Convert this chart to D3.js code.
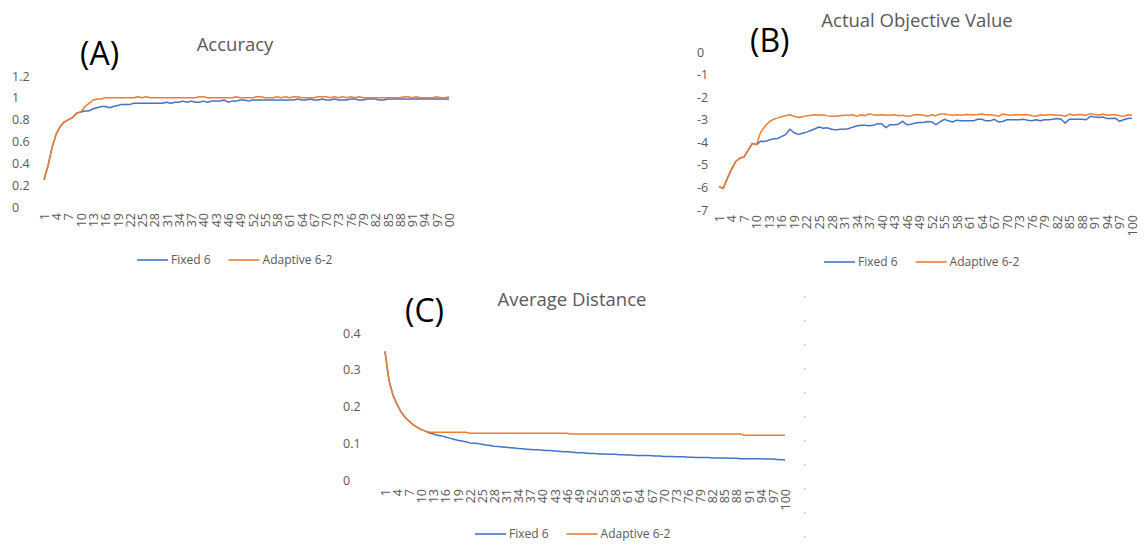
<!DOCTYPE html>
<html><head><meta charset="utf-8">
<script src="https://cdn.jsdelivr.net/npm/d3@7/dist/d3.min.js"></script>
<style>
html,body{margin:0;padding:0;background:#fff;}
svg{display:block;font-family:"Open Sans",sans-serif;}
</style></head>
<body><svg id="c" width="1144" height="544"></svg>
<script>
const iterations = d3.range(1, 101);
const seriesNames = ["Fixed 6", "Adaptive 6-2"];

const accuracyFixed = [
0.25,0.38,0.55,0.67,0.74,0.78,0.80,0.82,0.86,0.87,
0.88,0.88,0.90,0.91,0.92,0.92,0.91,0.92,0.93,0.94,
0.94,0.94,0.95,0.95,0.95,0.95,0.95,0.95,0.95,0.95,
0.96,0.95,0.96,0.96,0.97,0.96,0.97,0.96,0.96,0.97,
0.96,0.97,0.97,0.97,0.98,0.96,0.97,0.97,0.98,0.98,
0.97,0.98,0.98,0.98,0.98,0.98,0.98,0.98,0.98,0.98,
0.98,0.98,0.99,0.98,0.98,0.99,0.98,0.98,0.99,0.98,
0.98,0.99,0.98,0.98,0.98,0.99,0.99,0.98,0.98,0.99,
0.99,0.99,0.98,0.98,0.99,0.99,0.99,0.99,0.99,0.99,
0.99,0.99,0.99,0.99,0.99,0.99,0.99,0.99,0.99,0.99];
const accuracyAdaptive = [
0.25,0.38,0.55,0.67,0.74,0.78,0.80,0.82,0.86,0.87,
0.92,0.95,0.98,0.99,0.99,1.00,1.00,1.00,1.00,1.00,
1.00,1.00,1.00,1.01,1.00,1.01,1.00,1.00,1.00,1.00,
1.00,1.00,1.00,1.00,1.00,1.00,1.00,1.00,1.01,1.01,
1.00,1.00,1.00,1.00,1.00,1.00,1.00,1.01,1.00,1.00,
1.00,1.00,1.01,1.01,1.00,1.00,1.00,1.01,1.00,1.01,
1.00,1.01,1.01,1.00,1.00,1.00,1.00,1.01,1.01,1.01,
1.00,1.01,1.00,1.01,1.00,1.01,1.00,1.01,1.00,1.00,
1.00,1.00,1.00,1.00,1.00,1.00,1.00,1.00,1.01,1.01,
1.00,1.01,1.00,1.00,1.00,1.00,1.01,1.00,1.00,1.01];

const objectiveFixed = [
-5.95,-6.05,-5.6,-5.2,-4.85,-4.7,-4.65,-4.35,-4.05,-4.1,
-3.95,-3.97,-3.9,-3.85,-3.83,-3.75,-3.65,-3.42,-3.58,-3.65,
-3.6,-3.55,-3.48,-3.4,-3.32,-3.38,-3.36,-3.42,-3.45,-3.42,
-3.42,-3.4,-3.33,-3.28,-3.25,-3.25,-3.27,-3.25,-3.18,-3.18,
-3.35,-3.22,-3.22,-3.2,-3.07,-3.22,-3.2,-3.15,-3.12,-3.12,
-3.08,-3.1,-3.22,-3.1,-2.98,-3.05,-3.1,-3.02,-3.05,-3.05,
-3.05,-3.05,-2.98,-2.98,-3.05,-3.05,-2.98,-3.1,-3.08,-3.0,
-3.0,-3.0,-3.0,-2.98,-3.02,-3.05,-3.0,-3.05,-3.0,-3.0,
-2.98,-2.95,-2.98,-3.15,-2.98,-2.98,-2.98,-2.98,-3.0,-2.85,
-2.88,-2.9,-2.88,-2.95,-2.95,-2.93,-3.07,-3.0,-2.95,-2.93];
const objectiveAdaptive = [
-5.95,-6.05,-5.6,-5.2,-4.85,-4.7,-4.65,-4.35,-4.05,-4.1,
-3.55,-3.3,-3.1,-2.98,-2.93,-2.87,-2.82,-2.78,-2.85,-2.9,
-2.87,-2.83,-2.8,-2.78,-2.8,-2.78,-2.83,-2.85,-2.85,-2.82,
-2.8,-2.8,-2.78,-2.85,-2.78,-2.82,-2.75,-2.78,-2.8,-2.78,
-2.8,-2.8,-2.78,-2.82,-2.8,-2.85,-2.82,-2.78,-2.78,-2.8,
-2.85,-2.78,-2.82,-2.75,-2.75,-2.78,-2.8,-2.78,-2.8,-2.77,
-2.78,-2.78,-2.77,-2.75,-2.78,-2.78,-2.8,-2.85,-2.75,-2.78,
-2.8,-2.78,-2.78,-2.78,-2.78,-2.82,-2.85,-2.78,-2.8,-2.78,
-2.78,-2.8,-2.8,-2.85,-2.75,-2.8,-2.77,-2.78,-2.8,-2.73,
-2.77,-2.8,-2.75,-2.8,-2.78,-2.78,-2.82,-2.85,-2.78,-2.8];

const distanceFixed = [
0.35,0.27,0.23,0.205,0.185,0.17,0.16,0.15,0.143,0.137,
0.133,0.128,0.125,0.122,0.12,0.117,0.114,0.111,0.108,0.106,
0.104,0.101,0.1,0.099,0.097,0.095,0.094,0.092,0.091,0.09,
0.089,0.088,0.087,0.086,0.085,0.084,0.083,0.082,0.082,0.081,
0.080,0.080,0.079,0.078,0.077,0.077,0.076,0.075,0.074,0.074,
0.073,0.072,0.072,0.071,0.071,0.070,0.070,0.070,0.069,0.069,
0.068,0.068,0.067,0.067,0.067,0.067,0.066,0.065,0.065,0.064,
0.064,0.064,0.063,0.063,0.063,0.062,0.062,0.061,0.061,0.061,
0.061,0.060,0.060,0.060,0.060,0.059,0.059,0.059,0.058,0.058,
0.058,0.058,0.058,0.058,0.057,0.057,0.057,0.056,0.055,0.055];
const distanceAdaptive = [
0.35,0.27,0.23,0.205,0.185,0.17,0.16,0.15,0.143,0.137,
0.133,0.13,0.13,0.13,0.13,0.13,0.13,0.13,0.13,0.13,
0.13,0.127,0.127,0.127,0.127,0.127,0.127,0.127,0.127,0.127,
0.127,0.127,0.127,0.127,0.127,0.127,0.127,0.127,0.127,0.127,
0.127,0.127,0.127,0.127,0.127,0.127,0.125,0.125,0.125,0.125,
0.125,0.125,0.125,0.125,0.125,0.125,0.125,0.125,0.125,0.125,
0.125,0.125,0.125,0.125,0.125,0.125,0.125,0.125,0.125,0.125,
0.125,0.125,0.125,0.125,0.125,0.125,0.125,0.125,0.125,0.125,
0.125,0.125,0.125,0.125,0.125,0.125,0.125,0.125,0.125,0.122,
0.122,0.122,0.122,0.122,0.122,0.122,0.122,0.122,0.122,0.122];

const accuracyTicks = [0, 0.2, 0.4, 0.6, 0.8, 1, 1.2];
const objectiveTicks = [0, -1, -2, -3, -4, -5, -6, -7];
const distanceTicks = [0, 0.1, 0.2, 0.3, 0.4];
const xTickLabels = iterations.filter(d => (d - 1) % 3 === 0);

const colors = ["#4472C4", "#ED7D31"];
const textGray = "#595959";
const svg = d3.select("#c");

const panels = [
  {tag:"(A)", title:"Accuracy", series:[accuracyFixed, accuracyAdaptive], ticks:accuracyTicks, domain:[0,1.2],
   xr:[44,449], yr:[207,76], yLabX:12, xLabTop:213, clipBottom:229,
   titleX:235, titleY:51, tagX:80, tagY:65, legX:137, legY:260},
  {tag:"(B)", title:"Actual Objective Value", series:[objectiveFixed, objectiveAdaptive], ticks:objectiveTicks, domain:[-7,0],
   xr:[719,1132], yr:[210,52], yLabX:697, xLabTop:215, clipBottom:null,
   titleX:917, titleY:27, tagX:750, tagY:52, legX:824, legY:262},
  {tag:"(C)", title:"Average Distance", series:[distanceFixed, distanceAdaptive], ticks:distanceTicks, domain:[0,0.4],
   xr:[385,785], yr:[480,333], yLabX:343, xLabTop:489, clipBottom:null,
   titleX:572, titleY:306, tagX:405, tagY:322, legX:475, legY:534}
];

panels.forEach((p, pi) => {
  const g = svg.append("g");
  const x = d3.scalePoint().domain(iterations).range(p.xr);
  const y = d3.scaleLinear().domain(p.domain).range(p.yr);

  // y axis labels (plain hyphen-minus like the original)
  const ya = g.append("g").call(d3.axisLeft(y).tickValues(p.ticks).tickSize(0).tickFormat(d => String(d)));
  ya.select(".domain").remove();
  ya.selectAll("text").attr("x", p.yLabX).attr("text-anchor", "start")
    .attr("fill", textGray).style("font-size", "12.5px").style("font-family", "Open Sans");

  // x axis labels
  const xa = g.append("g").attr("transform", `translate(0,${p.xLabTop})`)
    .call(d3.axisBottom(x).tickValues(xTickLabels).tickSize(0).tickPadding(0));
  if (p.clipBottom !== null) {
    xa.append("clipPath").attr("id", "clip" + pi).append("rect")
      .attr("x", 0).attr("y", -p.xLabTop).attr("width", 1144).attr("height", p.clipBottom);
    xa.attr("clip-path", `url(#clip${pi})`);
  }
  xa.select(".domain").remove();
  xa.selectAll("text").attr("transform", "rotate(-90)").attr("text-anchor", "end")
    .attr("x", 0).attr("y", 0).attr("dy", "0.35em")
    .attr("fill", textGray).style("font-size", "12.5px").style("font-family", "Open Sans");

  // lines
  const line = d3.line().x((d, i) => x(iterations[i])).y(d => y(d));
  p.series.forEach((s, si) => {
    g.append("path").datum(s).attr("d", line).attr("fill", "none")
      .attr("stroke", colors[si]).attr("stroke-width", 1.5).attr("stroke-linejoin", "round");
  });

  // title & tag
  g.append("text").attr("x", p.titleX).attr("y", p.titleY).attr("text-anchor", "middle")
    .attr("fill", textGray).style("font-size", "18.5px").text(p.title);
  g.append("text").attr("x", p.tagX).attr("y", p.tagY).attr("fill", "#000")
    .style("font-size", "32px").text(p.tag);

  // legend
  let lx = p.legX;
  seriesNames.forEach((name, si) => {
    g.append("line").attr("x1", lx).attr("x2", lx + 31).attr("y1", p.legY).attr("y2", p.legY)
      .attr("stroke", colors[si]).attr("stroke-width", 1.6);
    const t = g.append("text").attr("x", lx + 34).attr("y", p.legY).attr("dy", "0.35em")
      .attr("fill", textGray).style("font-size", "12px").text(name);
    lx = lx + 34 + t.node().getComputedTextLength() + 18;
  });
});

// faint dashed border marks on the right of panel C
const markYs = d3.range(296, 544, 24);
svg.append("g").selectAll("rect").data(markYs).join("rect")
  .attr("x", 804).attr("y", d => d).attr("width", 2).attr("height", 1.5).attr("fill", "#d0d0d0");
</script></body></html>
